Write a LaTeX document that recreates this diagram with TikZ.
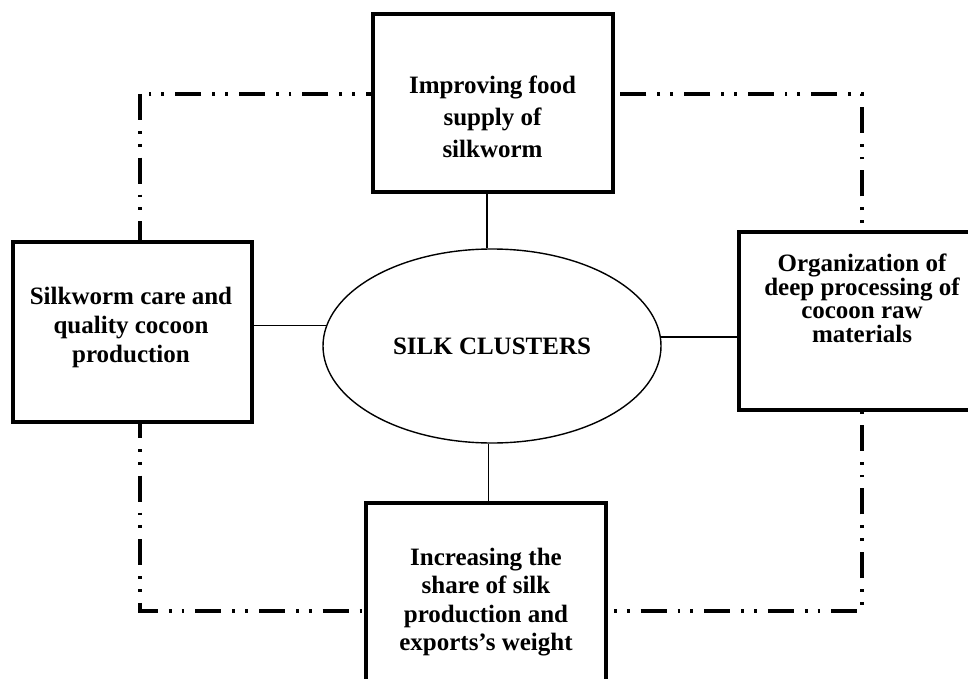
\documentclass[tikz,border=0pt]{standalone}
\usepackage{fontspec}
\setmainfont{Liberation Serif}
\usetikzlibrary{shapes.geometric}
\begin{document}
\begin{tikzpicture}[x=1pt,y=-1pt,
  frame/.style={line width=3.2pt,dash pattern=on 26pt off 11pt on 2.8pt off 10pt on 2.8pt off 11pt},
  box/.style={draw,line width=3.3pt,fill=white,rectangle,inner sep=0pt},
  txt/.style={inner sep=0pt,align=center,font=\bfseries\fontsize{25}{#1}\selectfont},
  link/.style={line width=1.4pt}]
\useasboundingbox (0,0) rectangle (968,679);
\clip (0,0) rectangle (968,679);
\fill[white] (0,0) rectangle (968,679);
\draw[frame] (140,94) rectangle (862,611);
\node[box,minimum width=240pt,minimum height=178pt] (top) at (493,103) {};
\node[box,minimum width=239pt,minimum height=180pt] (left) at (132.5,332) {};
\node[box,minimum width=246pt,minimum height=178pt] (right) at (862,321) {};
\node[box,minimum width=240pt,minimum height=178pt] (bot) at (486,592) {};
\node[draw,ellipse,line width=1.4pt,inner sep=0pt,minimum width=338pt,minimum height=194pt,
  font=\bfseries\fontsize{25}{30}\selectfont] (ell) at (492,346) {SILK CLUSTERS};
\node[txt=32] (topT) at (492.5,116.5) {Improving food\\supply of\\silkworm};
\node[txt=29] (leftT) at (131,327) {Silkworm care and\\quality cocoon\\production};
\node[txt=23.5] (rightT) at (862,298.5) {Organization of\\deep processing of\\cocoon raw\\materials};
\node[txt=28.5] (botT) at (486,602) {Increasing the\\share of silk\\production and\\exports’s weight};
\draw[link] (ell.93.5) -- (ell.93.5 |- top.south);
\draw[link] (ell.268.2) -- (ell.268.2 |- bot.north);
\draw[link] (ell.173.5) -- (ell.173.5 -| left.east);
\draw[link] (ell.3.4) -- (ell.3.4 -| right.west);
\end{tikzpicture}
\end{document}
